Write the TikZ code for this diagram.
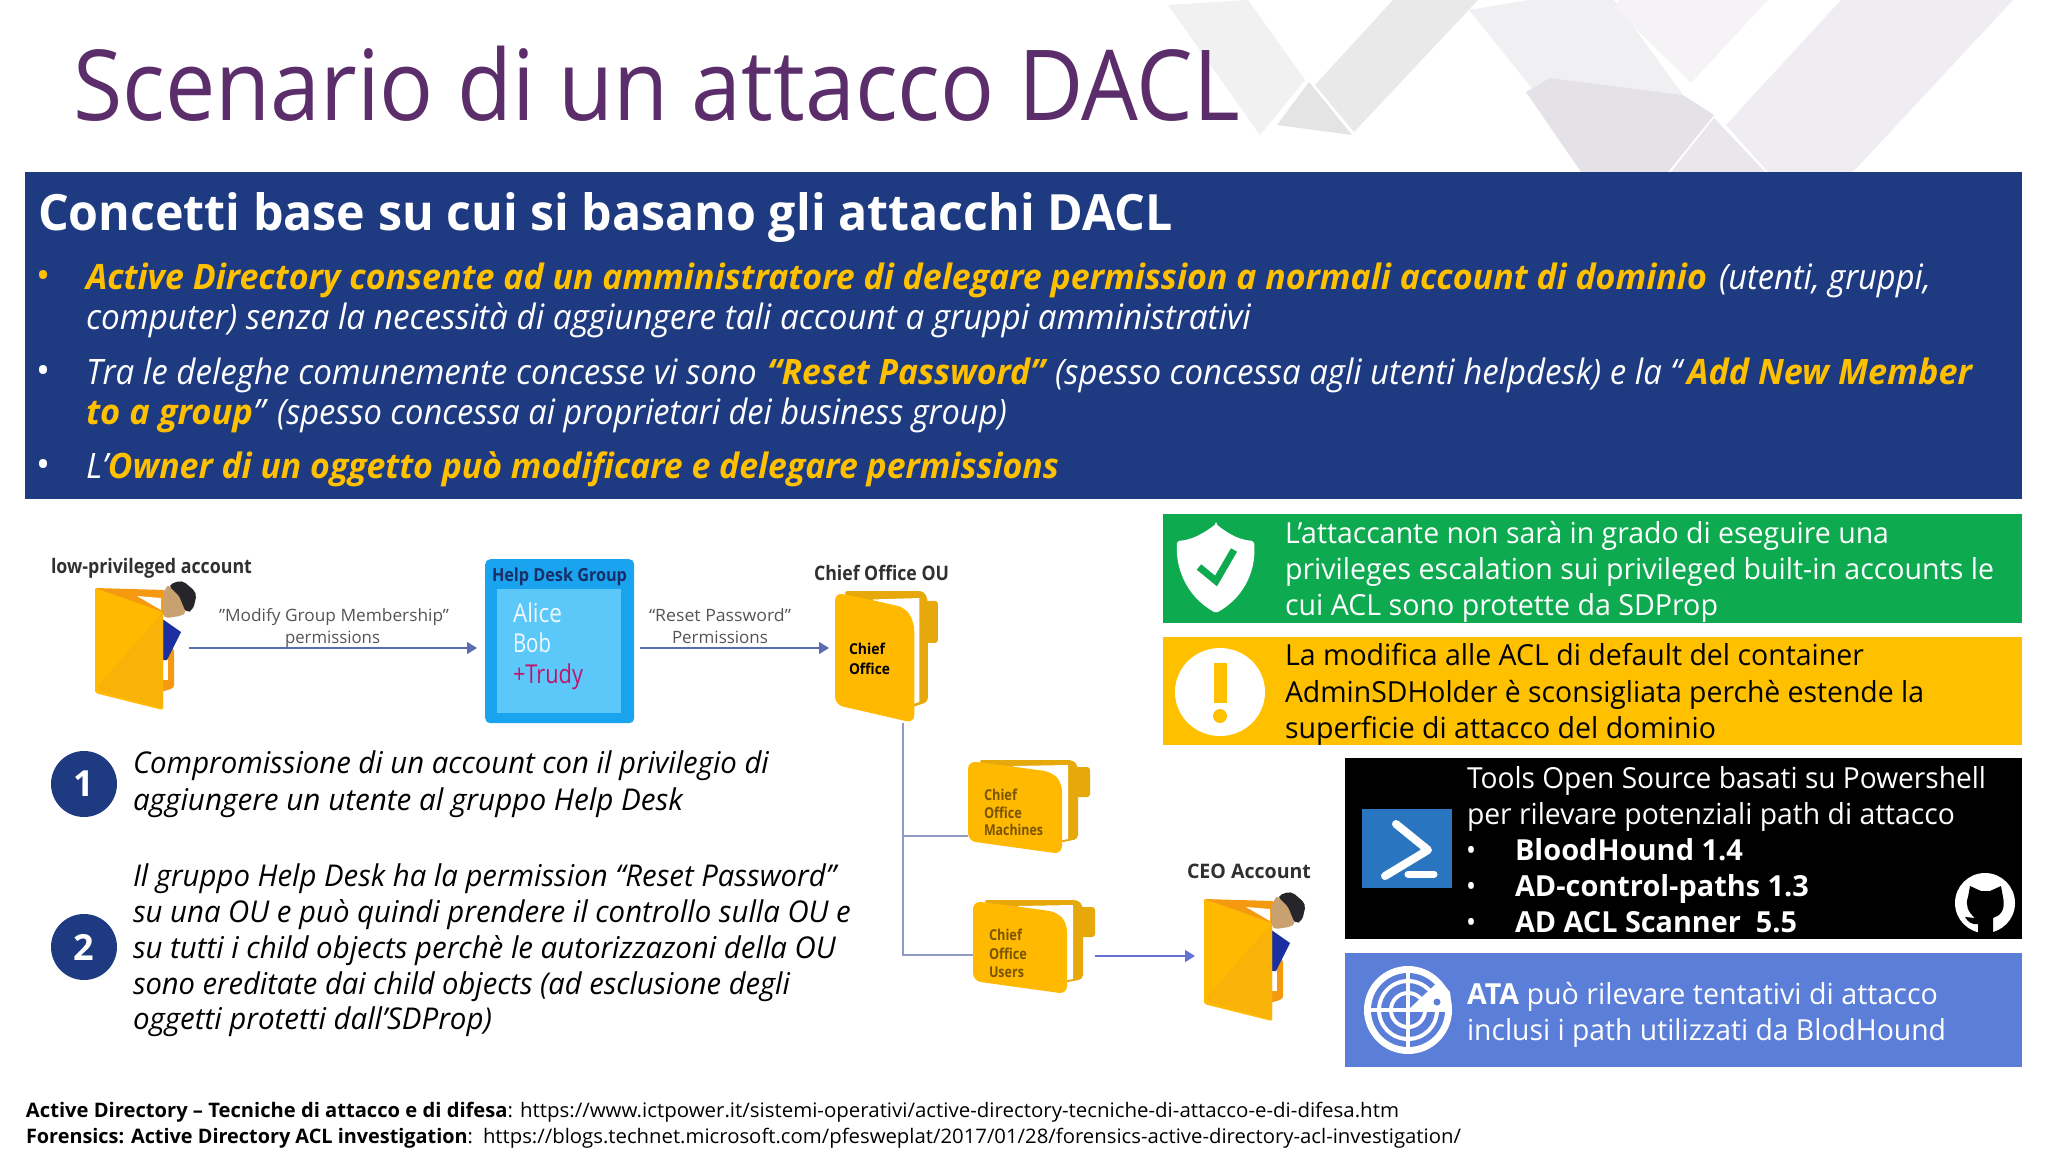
\documentclass[tikz,border=0pt]{standalone}
\usepackage{fontspec}
\usepackage{graphicx}
\setmainfont{Open Sans}
\usetikzlibrary{arrows.meta}
\definecolor{titlec}{HTML}{5C2D6B}
\definecolor{navy}{HTML}{1E3A80}
\definecolor{goldc}{HTML}{FFC000}
\definecolor{greenc}{HTML}{0DAA50}
\definecolor{bluep}{HTML}{5B7FD8}
\definecolor{fold}{HTML}{FFB900}
\definecolor{foldd}{HTML}{F8B208}
\definecolor{foldb}{HTML}{E6A80A}
\definecolor{orng}{HTML}{F59A10}
\definecolor{arrowc}{HTML}{5A6EAE}
\definecolor{treec}{HTML}{8F9BC6}
\definecolor{grayt}{HTML}{555555}
\definecolor{darkt}{HTML}{303030}
\definecolor{browt}{HTML}{7A5500}
\definecolor{psblue}{HTML}{2A75C0}
\definecolor{helpo}{HTML}{1AA3EE}
\definecolor{helpi}{HTML}{5CC8FA}
\definecolor{trudy}{HTML}{C0146C}
\definecolor{skin}{HTML}{C9A070}
\definecolor{shirt}{HTML}{1B2FA0}
\definecolor{hair}{HTML}{26262A}
\definecolor{deco1}{HTML}{F1F1F1}
\definecolor{deco2}{HTML}{E9E9E9}
\definecolor{deco3}{HTML}{E4E4E4}
\definecolor{deco4}{HTML}{F0EFF1}
\definecolor{deco5}{HTML}{F6F3F7}
\definecolor{deco6}{HTML}{E5E2E7}
\definecolor{deco7}{HTML}{EFEDF1}
\definecolor{deco8}{HTML}{E9E7EC}
\newsavebox\fitbox
\newcommand\fit[2]{\sbox\fitbox{#2}\pgfmathsetmacro\fitS{#1/(\wd\fitbox)}\scalebox{\fitS}[1]{\usebox\fitbox}}
\newcommand\tl[6]{\node[ltxt,#5] (#1) at (#2,#3) {\fit{#4}{#6}};}
\newcommand\gd[1]{{\color{goldc}\bfseries #1}}
\newcommand\fs[1]{\fontsize{#1}{#1}\selectfont}
\tikzset{
  ltxt/.style={anchor=base west,inner sep=0pt,outer sep=0pt},
  panel/.style={anchor=north west,inner sep=0pt,minimum width=#1,draw=none},
  headf/.style={font=\fs{50}\bfseries,text=white},
  bulf/.style={font=\fs{35}\itshape,text=white},
  sidef/.style={font=\fs{29},text=white},
  leftf/.style={font=\fs{30}\itshape,text=black},
  footf/.style={font=\fs{20},text=black},
  glabel/.style={font=\fs{17},text=grayt},
  blabel/.style={font=\fs{20}\bfseries,text=darkt},
  folderf/.style={font=\fs{15}\bfseries,text=browt},
  flow/.style={draw=arrowc,line width=1.4pt,-{Triangle[length=10pt,width=12pt]}},
  tree/.style={draw=treec,line width=1.4pt},
  numc/.style={circle,fill=navy,text=white,font=\fs{36}\bfseries,minimum size=66pt,inner sep=0pt},
  ofolder/.pic={
    \fill[foldb,rounded corners=4pt] (10,0) -- (105,0) -- (110,6) -- (110,79) -- (90,83) -- cycle;
    \fill[foldb,rounded corners=3pt] (105,7) -- (122,7) -- (122,37) -- (105,37) -- cycle;
    \fill[white] (45,6) -- (100,5) -- (100,79) -- (90,81) -- cycle;
    \fill[fold,rounded corners=8pt] (0,1) -- (48,7) -- (84,12) -- (94,23) -- (94,94) -- (0,81) -- cycle;
  },
  person/.pic={
    \fill[orng,rounded corners=2pt] (0,0) -- (70,2) -- (70,26) -- (0,10) -- cycle;
    \fill[orng,rounded corners=3pt] (66,60) -- (79,60) -- (79,100) -- (66,104) -- cycle;
    \fill[white] (42,8) -- (66,10) -- (66,22) -- cycle;
    \fill[white] (66,62) rectangle (73,92);
    \fill[shirt] (66,30) -- (86,44) -- (72,72) -- (66,72) -- cycle;
    \fill[fold,rounded corners=2pt] (0,0) -- (68,24) -- (68,122) -- (0,105) -- cycle;
    \fill[foldd] (68,24) -- (68,120) -- (5,103) -- (3,98) -- cycle;
    \fill[hair,rounded corners=5pt] (73,-3) -- (87,-8) -- (102,5) -- (98,22) -- (91,25) -- (82,10) -- cycle;
    \fill[skin,rounded corners=2pt] (68,5) -- (73,-3) -- (84,8) -- (91,25) -- (85,28) -- (72,30) -- (68,28) -- cycle;
  }
}
\begin{document}
\begin{tikzpicture}[x=1pt,y=-1pt]
\useasboundingbox (0,0) rectangle (2048,1152);
\fill[white] (0,0) rectangle (2048,1152);
% decoration
\fill[deco1] (1168,5) -- (1248,0) -- (1305,80) -- (1260,135) -- cycle;
\fill[deco2] (1393,0) -- (1478,0) -- (1354,132) -- (1315,85) -- cycle;
\fill[deco3] (1309,82) -- (1352,135) -- (1277,125) -- cycle;
\fill[deco4] (1469,10) -- (1529,0) -- (1614,0) -- (1683,95) -- (1550,78) -- (1535,92) -- cycle;
\fill[deco5] (1620,0) -- (1768,0) -- (1691,83) -- (1614,7) -- cycle;
\fill[deco6] (1550,78) -- (1683,95) -- (1714,115) -- (1668,172) -- (1581,172) -- (1526,92) -- cycle;
\fill[deco7] (1841,0) -- (2013,0) -- (1853,172) -- (1768,172) -- (1726,125) -- cycle;
\fill[deco8] (1714,118) -- (1765,172) -- (1671,172) -- cycle;
% title
\tl{title}{73}{120}{1167}{font=\fs{98},text=titlec}{Scenario di un attacco DACL}
% blue panel
\node[panel=1997pt,minimum height=327pt,fill=navy] (main) at (25,172) {};
\tl{head}{38}{230}{1135}{headf}{Concetti base su cui si basano gli attacchi DACL}
\tl{b1}{37}{288}{14}{font=\fs{37},text=goldc}{•}
\tl{l1a}{86}{289}{1621}{bulf}{\gd{Active Directory consente ad un amministratore di delegare permission a normali account di dominio}}
\tl{l1b}{1719}{289}{212}{bulf}{(utenti, gruppi,}
\tl{l2}{86}{329}{1165}{bulf}{computer) senza la necessità di aggiungere tali account a gruppi amministrativi}
\tl{b2}{37}{383}{14}{font=\fs{37},text=white}{•}
\tl{l3a}{86}{384}{671}{bulf}{Tra le deleghe comunemente concesse vi sono}
\tl{l3b}{767}{384}{278}{bulf}{\gd{“Reset Password”}}
\tl{l3c}{1055}{384}{627}{bulf}{(spesso concessa agli utenti helpdesk) e la “}
\tl{l3d}{1687}{384}{285}{bulf}{\gd{Add New Member}}
\tl{l4a}{86}{424}{179}{bulf}{\gd{to a group}”}
\tl{l4b}{277}{424}{730}{bulf}{(spesso concessa ai proprietari dei business group)}
\tl{b3}{37}{477}{14}{font=\fs{37},text=white}{•}
\tl{l5}{86}{478}{973}{bulf}{L’\gd{Owner di un oggetto può modificare e delegare permissions}}
% right panels
\node[panel=859pt,minimum height=109pt,fill=greenc] (pgreen) at (1163,514) {};
\node[panel=859pt,minimum height=108pt,fill=goldc] (pyellow) at (1163,637) {};
\node[panel=677pt,minimum height=181pt,fill=black] (pblack) at (1345,758) {};
\node[panel=677pt,minimum height=114pt,fill=bluep] (pblue) at (1345,953) {};
\tl{g1}{1285}{543}{604}{sidef}{L’attaccante non sarà in grado di eseguire una}
\tl{g2}{1285}{579}{709}{sidef}{privileges escalation sui privileged built-in accounts le}
\tl{g3}{1285}{615}{433}{sidef}{cui ACL sono protette da SDProp}
\tl{y1}{1285}{665}{579}{sidef,text=black}{La modifica alle ACL di default del container}
\tl{y2}{1285}{702}{639}{sidef,text=black}{AdminSDHolder è sconsigliata perchè estende la}
\tl{y3}{1285}{738}{431}{sidef,text=black}{superficie di attacco del dominio}
\tl{k1}{1467}{788}{519}{sidef}{Tools Open Source basati su Powershell}
\tl{k2}{1467}{824}{488}{sidef}{per rilevare potenziali path di attacco}
\tl{kb1}{1466}{860}{10}{sidef}{•}
\tl{k3}{1515}{860}{228}{sidef,font=\fs{29}\bfseries}{BloodHound 1.4}
\tl{kb2}{1466}{896}{10}{sidef}{•}
\tl{k4}{1515}{896}{294}{sidef,font=\fs{29}\bfseries}{AD-control-paths 1.3}
\tl{kb3}{1466}{932}{10}{sidef}{•}
\tl{k5}{1515}{932}{282}{sidef,font=\fs{29}\bfseries}{AD ACL Scanner\ \ 5.5}
\tl{a1}{1467}{1004}{471}{sidef}{\textbf{ATA} può rilevare tentativi di attacco}
\tl{a2}{1467}{1040}{479}{sidef}{inclusi i path utilizzati da BlodHound}
% shield
\fill[white,rounded corners=2pt] (1216,524) .. controls (1200,536) and (1190,540) .. (1177,541) .. controls (1175,575) and (1192,600) .. (1216,613) .. controls (1240,600) and (1257,575) .. (1254,541) .. controls (1241,540) and (1231,536) .. (1216,524) -- cycle;
\draw[greenc,line width=7pt] (1199,567) -- (1216,581) -- (1234,550);
% warning
\fill[white] (1220,692) ellipse[x radius=45pt,y radius=44pt];
\fill[goldc] (1214,663) rectangle (1227,703);
\fill[goldc] (1220,716) circle[radius=7pt];
% powershell
\fill[psblue] (1362,809) rectangle (1452,888);
\draw[white,line width=8pt,line cap=round,line join=round] (1396,824) -- (1428,850) -- (1385,876);
\draw[white,line width=7pt,line cap=round] (1408,874) -- (1434,874);
% github
\fill[white] (1985,903) circle[radius=30pt];
\fill[black] (1970,886) -- (1981,891) -- (1990,891) -- (2001,886) -- (2003,897) .. controls (2006,910) and (2000,916) .. (1993,918) -- (1993,935) -- (1978,935) -- (1978,924) .. controls (1972,925) and (1968,922) .. (1965,917) -- (1975,918) .. controls (1968,912) and (1965,905) .. (1968,897) -- cycle;
% ATA icon
\fill[white] (1408,1010) circle[radius=44pt];
\fill[bluep] (1408,1010) circle[radius=37pt];
\fill[white] (1408,1010) circle[radius=31pt];
\fill[bluep] (1408,1010) circle[radius=27pt];
\fill[white] (1408,1010) circle[radius=19pt];
\fill[bluep] (1408,1010) circle[radius=15pt];
\fill[white] (1408,1010) -- (1452,1010) -- (1450,992) -- (1440,980) -- cycle;
\fill[white] (1406,966) rectangle (1410,1054);
\fill[white] (1364,1008) rectangle (1452,1012);
\fill[bluep] (1437,1002) circle[radius=3.5pt];
% left text
\node[numc] (n1) at (84,784) {1};
\node[numc] (n2) at (84,947) {2};
\tl{t1}{133}{773}{636}{leftf}{Compromissione di un account con il privilegio di}
\tl{t2}{133}{810}{550}{leftf}{aggiungere un utente al gruppo Help Desk}
\tl{t3}{133}{886}{703}{leftf}{Il gruppo Help Desk ha la permission “Reset Password”}
\tl{t4}{133}{922}{718}{leftf}{su una OU e può quindi prendere il controllo sulla OU e}
\tl{t5}{133}{958}{703}{leftf}{su tutti i child objects perchè le autorizzazoni della OU}
\tl{t6}{133}{994}{657}{leftf}{sono ereditate dai child objects (ad esclusione degli}
\tl{t7}{133}{1029}{359}{leftf}{oggetti protetti dall’SDProp)}
% footer
\tl{f1a}{26}{1117}{487}{footf}{\textbf{Active Directory – Tecniche di attacco e di difesa}:}
\tl{f1b}{520}{1117}{879}{footf}{https://www.ictpower.it/sistemi-operativi/active-directory-tecniche-di-attacco-e-di-difesa.htm}
\tl{f2a}{26}{1143}{447}{footf}{\textbf{Forensics: Active Directory ACL investigation}:}
\tl{f2b}{483}{1143}{978}{footf}{https://blogs.technet.microsoft.com/pfesweplat/2017/01/28/forensics-active-directory-acl-investigation/}
% diagram
\pic at (95,588) {person};
\pic at (1204,899) {person};
\tl{lowl}{51}{573}{201}{blabel}{low-privileged account}
\node[panel=149pt,minimum height=164pt,fill=helpo,rounded corners=5pt] (help) at (485,559) {};
\node[panel=124pt,minimum height=124pt,fill=helpi] (helpin) at (497,589) {};
\tl{hg}{492}{581}{135}{font=\fs{18}\bfseries,text=navy!80!black}{Help Desk Group}
\tl{ha}{513}{622}{49}{font=\fs{26},text=white!90!helpi}{Alice}
\tl{hb}{513}{652}{38}{font=\fs{26},text=white!90!helpi}{Bob}
\tl{ht}{513}{683}{70}{font=\fs{26},text=trudy}{+Trudy}
\coordinate (lowout) at (189,648);
\coordinate (chiefin) at (829,648);
\draw[flow,shorten >=8pt] (lowout) -- (help.west |- lowout);
\draw[flow,shorten <=6pt] (help.east |- chiefin) -- (chiefin);
\tl{m1}{219}{621}{230}{glabel}{"Modify Group Membership"}
\tl{m2}{285}{643}{95}{glabel}{permissions}
\tl{r1}{649}{621}{142}{glabel}{“Reset Password”}
\tl{r2}{672}{643}{96}{glabel}{Permissions}
\tl{col}{814}{580}{135}{blabel}{Chief Office OU}
\pic[xscale=.844,yscale=1.404] at (835,591) {ofolder};
\tl{c1}{849}{654}{36}{font=\fs{15}\bfseries,text=black}{Chief}
\tl{c2}{849}{674}{41}{font=\fs{15}\bfseries,text=black}{Office}
\coordinate (chiefbot) at (903,723);
\coordinate (machin) at (968,836);
\coordinate (usersin) at (973,955);
\coordinate (usersout) at (1095,956);
\coordinate (ceoin) at (1195,956);
\pic at (968,760) {ofolder};
\pic at (973,900) {ofolder};
\draw[tree] (chiefbot) |- (machin);
\draw[tree] (chiefbot) |- (usersin);
\tl{cm1}{984}{800}{33}{folderf}{Chief}
\tl{cm2}{984}{818}{38}{folderf}{Office}
\tl{cm3}{984}{835}{59}{folderf}{Machines}
\tl{cu1}{989}{940}{33}{folderf}{Chief}
\tl{cu2}{989}{959}{38}{folderf}{Office}
\tl{cu3}{989}{977}{35}{folderf}{Users}
\draw[flow,draw=arrowc!70!blue!80!white] (usersout) -- (ceoin);
\tl{ceol}{1187}{878}{124}{blabel}{CEO Account}
\end{tikzpicture}
\end{document}
